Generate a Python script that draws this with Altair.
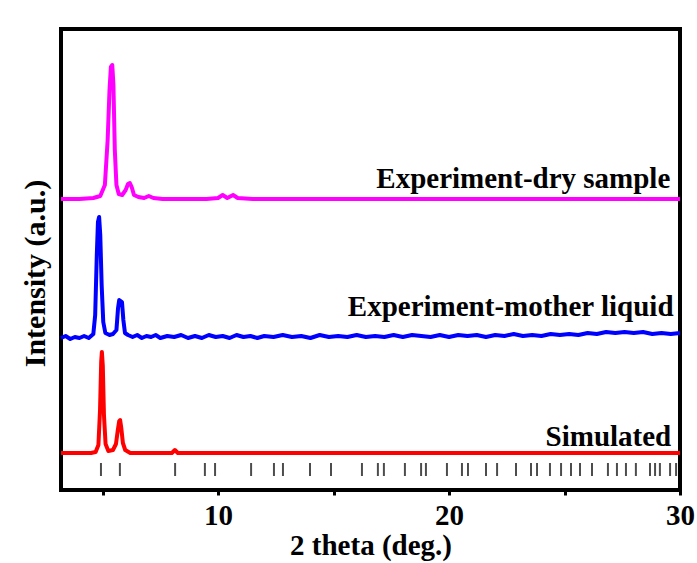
import altair as alt
import pandas as pd

# ---- data (x: 2 theta in degrees, y: stacked intensity, a.u.) ----
sim_x = [3.2, 4.0, 4.5, 4.7, 4.82, 4.89, 4.94, 4.97, 5.01, 5.06, 5.13, 5.25, 5.45,
         5.58, 5.66, 5.72, 5.76, 5.81, 5.88, 5.98, 6.2, 7.0, 8.0, 8.13, 8.26, 9.5,
         12.0, 15.0, 20.0, 25.0, 30.0]
sim_y = [37, 37, 37, 38, 45, 80, 128, 138, 124, 75, 46, 39, 40,
         46, 60, 69, 70, 62, 47, 40, 37, 37, 37, 40, 37, 37,
         37, 37, 37, 37, 37]

ml_x = [3.2, 3.4, 3.6, 3.8, 4.0, 4.2, 4.4, 4.6, 4.68, 4.75, 4.8, 4.85, 4.9, 4.96,
        5.03, 5.12, 5.3, 5.45, 5.6, 5.67, 5.72, 5.84, 5.9, 5.97, 6.1, 6.3, 6.5,
        6.7, 6.9, 7.1, 7.3, 7.5, 7.8, 8.1, 8.4, 8.7, 9.0, 9.3, 9.6, 9.9, 10.2,
        10.5, 10.8, 11.1, 11.4, 11.7, 12.0, 12.4, 12.8, 13.2, 13.6, 14.0, 14.4,
        14.8, 15.2, 15.6, 16.0, 16.4, 16.8, 17.2, 17.6, 18.0, 18.4, 18.8, 19.2,
        19.6, 20.0, 20.4, 20.8, 21.2, 21.6, 22.0, 22.4, 22.8, 23.2, 23.6, 24.0,
        24.4, 24.8, 25.2, 25.6, 26.0, 26.4, 26.8, 27.2, 27.6, 28.0, 28.4, 28.8,
        29.2, 29.6, 30.0]
ml_y = [152, 154, 151, 153, 152, 154, 152, 156, 175, 235, 268, 273, 255, 205,
        168, 157, 155, 156, 160, 182, 190, 188, 170, 157, 155, 153, 155,
        152, 154, 153, 155, 152, 154, 153, 155, 152, 154, 152, 155, 153, 154,
        152, 155, 153, 154, 152, 154, 153, 155, 153, 154, 152, 155,
        153, 154, 153, 155, 153, 154, 153, 155, 153, 155, 154, 153,
        155, 153, 155, 154, 155, 153, 155, 154, 156, 154, 155, 154,
        156, 155, 156, 155, 157, 156, 158, 157, 158, 157, 158, 156,
        157, 156, 157]

ds_x = [3.2, 4.0, 4.6, 4.9, 5.1, 5.22, 5.3, 5.36, 5.42, 5.47, 5.53, 5.6, 5.7,
        5.85, 6.0, 6.1, 6.18, 6.26, 6.36, 6.55, 6.8, 7.0, 7.2, 7.6, 8.5, 9.5,
        10.0, 10.2, 10.4, 10.65, 10.85, 11.5, 14.0, 18.0, 22.0, 26.0, 30.0]
ds_y = [291, 291, 292, 294, 305, 350, 400, 423, 425, 405, 340, 305, 296,
        295, 300, 306, 307, 303, 295, 293, 292, 294, 292, 291, 291, 291,
        292, 295, 292, 295, 292, 291, 291, 291, 291, 291, 291]

# simulated reflection positions (tick row)
refl_x = [4.93, 5.75, 8.14, 9.43, 9.87, 11.43, 12.42, 12.81, 13.98, 14.89, 16.23,
          16.92, 17.18, 18.09, 18.79, 19.00, 19.91, 20.56, 20.82, 21.60, 22.08,
          22.90, 23.55, 23.81, 24.37, 24.85, 25.28, 25.67, 26.19, 26.88, 27.27,
          27.66, 28.09, 28.70, 28.92, 29.13, 29.57, 29.83]

series_names = ["Simulated", "Experiment-mother liquid", "Experiment-dry sample"]
series_colors = ["#FF0000", "#0000FF", "#FF00FF"]
label_x = [29.62, 29.72, 29.58]
label_y = [44, 174, 302]

rows = []
for name, xs, ys in zip(series_names, [sim_x, ml_x, ds_x], [sim_y, ml_y, ds_y]):
    for a, b in zip(xs, ys):
        rows.append({"series": name, "x": a, "y": b})
df = pd.DataFrame(rows)
labels = pd.DataFrame({"series": series_names, "x": label_x, "y": label_y})
refl = pd.DataFrame({"x": refl_x})

FONT = "Liberation Serif"
FS = 29
xscale = alt.Scale(domain=[3.2, 30], nice=False, zero=False)
yscale = alt.Scale(domain=[0, 461], nice=False, zero=False)

lines = alt.Chart(df).mark_line(strokeWidth=4, strokeJoin="round").encode(
    x=alt.X("x:Q", scale=xscale,
            axis=alt.Axis(title="2 theta (deg.)", values=[5, 10, 15, 20, 25, 30],
                          labelExpr="datum.value % 10 == 0 ? datum.label : ''",
                          domain=False, grid=False, tickColor="black", tickWidth=3,
                          tickSize=5, labelFont=FONT, labelFontSize=FS,
                          labelFontWeight="bold", labelColor="black", labelPadding=6,
                          titleFont=FONT, titleFontSize=FS, titleFontWeight="bold",
                          titleColor="black", titlePadding=1, labelFlush=False)),
    y=alt.Y("y:Q", scale=yscale,
            axis=alt.Axis(title="Intensity (a.u.)", labels=False, ticks=False,
                          domain=False, grid=False, titleFont=FONT, titleFontSize=30,
                          titleFontWeight="bold", titleColor="black", titlePadding=11,
                          titleY=244)),
    color=alt.Color("series:N", scale=alt.Scale(domain=series_names, range=series_colors),
                    legend=None),
    detail="series:N",
)

ticks = alt.Chart(refl).mark_tick(orient="vertical", size=13, thickness=2, color="black").encode(
    x=alt.X("x:Q", scale=xscale),
    y=alt.YDatum(20.5),
)

texts = alt.Chart(labels).mark_text(font=FONT, fontSize=FS, fontWeight="bold",
                                    align="right", baseline="alphabetic",
                                    color="black").encode(
    x=alt.X("x:Q", scale=xscale),
    y=alt.Y("y:Q", scale=yscale),
    text="series:N",
)

chart = alt.layer(lines, ticks, texts).properties(
    width=619, height=461,
    autosize=alt.AutoSizeParams(type="none"),
    padding={"left": 61, "top": 29, "right": 17, "bottom": 73},
    background="white",
).configure_view(stroke="black", strokeWidth=4)

chart.save("out.html", embed_options={"renderer": "svg", "actions": False})
